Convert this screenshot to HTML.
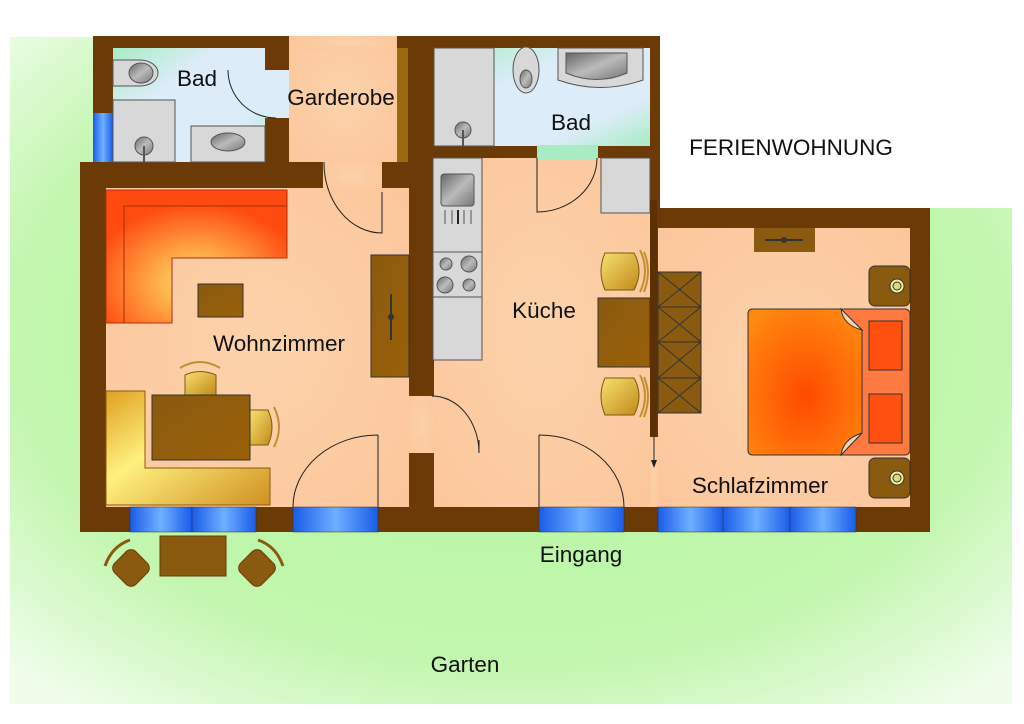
<!DOCTYPE html>
<html><head><meta charset="utf-8"><style>
html,body{margin:0;padding:0;background:#fff;width:1024px;height:724px;overflow:hidden}
svg{display:block}
text{font-family:"Liberation Sans",sans-serif;fill:#111}
</style></head><body>
<svg width="1024" height="724" viewBox="0 0 1024 724" xmlns="http://www.w3.org/2000/svg">
<defs>
<radialGradient id="grass" cx="0.5" cy="0.45" r="0.7"><stop offset="0" stop-color="#b4f7a0"/><stop offset="0.7" stop-color="#c2f6ae"/><stop offset="1" stop-color="#effdea"/></radialGradient>
<radialGradient id="floor" cx="0.5" cy="0.5" r="0.7"><stop offset="0" stop-color="#fcd3ab"/><stop offset="1" stop-color="#fcc69c"/></radialGradient>
<linearGradient id="bath" x1="0" y1="0" x2="1" y2="1"><stop offset="0" stop-color="#a8ecc4"/><stop offset="0.35" stop-color="#dcecf8"/><stop offset="0.75" stop-color="#dcecf8"/><stop offset="1" stop-color="#a8ecc4"/></linearGradient>
<radialGradient id="sofa" cx="0.5" cy="0.7" r="0.6"><stop offset="0" stop-color="#ffe86a"/><stop offset="1" stop-color="#ff4a10"/></radialGradient>
<linearGradient id="bench" x1="0" y1="0" x2="1" y2="1"><stop offset="0" stop-color="#e0a020"/><stop offset="0.4" stop-color="#fff080"/><stop offset="1" stop-color="#d09020"/></linearGradient>
<linearGradient id="wood" x1="0" y1="0" x2="1" y2="1"><stop offset="0" stop-color="#8a5a10"/><stop offset="1" stop-color="#9a6008"/></linearGradient>
<linearGradient id="chair" x1="0" y1="0" x2="1" y2="1"><stop offset="0" stop-color="#f8e070"/><stop offset="1" stop-color="#c08a18"/></linearGradient>
<linearGradient id="win" x1="0" y1="0" x2="1" y2="0"><stop offset="0" stop-color="#1a5ce8"/><stop offset="0.5" stop-color="#6eb0ff"/><stop offset="1" stop-color="#1a5ce8"/></linearGradient>
<radialGradient id="bed" cx="0.5" cy="0.6" r="0.7"><stop offset="0" stop-color="#ff4a00"/><stop offset="1" stop-color="#ff8a10"/></radialGradient>
<linearGradient id="metal" x1="0" y1="0" x2="1" y2="1"><stop offset="0" stop-color="#666"/><stop offset="0.5" stop-color="#bbb"/><stop offset="1" stop-color="#777"/></linearGradient>
</defs>
<rect x="10" y="37" width="1002" height="667" fill="url(#grass)"/>
<rect x="660" y="0" width="364" height="208" fill="#fff"/>
<rect x="1012" y="0" width="12" height="724" fill="#fff"/>
<path d="M93 36H304V48H393V36H660V208H930V532H80V162H93Z" fill="#6b3a06"/>
<rect x="113" y="48" width="152" height="114" fill="url(#bath)"/>
<rect x="265" y="70" width="24" height="48" fill="#dcecf8"/>
<rect x="289" y="36" width="108" height="126" fill="url(#floor)"/>
<rect x="304" y="36" width="89" height="14" fill="url(#floor)"/>
<rect x="323" y="160" width="59" height="32" fill="url(#floor)"/>
<rect x="397" y="48" width="11" height="114" fill="#9a6a10"/>
<rect x="106" y="188" width="303" height="319" fill="url(#floor)"/>
<rect x="409" y="396" width="25" height="57" fill="url(#floor)"/>
<rect x="434" y="48" width="216" height="98" fill="url(#bath)"/>
<rect x="434" y="158" width="216" height="349" fill="url(#floor)"/>
<rect x="537" y="145" width="61" height="14" fill="#a8ecc4"/>
<rect x="658" y="228" width="252" height="279" fill="url(#floor)"/>
<rect x="650" y="437" width="8" height="70" fill="url(#floor)"/>
<rect x="93" y="113" width="20" height="49" fill="url(#win)"/>
<g fill="url(#win)" stroke="#234" stroke-width="0.5">
<rect x="130" y="507" width="62" height="25"/><rect x="192" y="507" width="64" height="25"/>
<rect x="293" y="507" width="85" height="25"/><rect x="539" y="507" width="85" height="25"/>
<rect x="658" y="507" width="65" height="25"/><rect x="723" y="507" width="67" height="25"/><rect x="790" y="507" width="66" height="25"/>
</g>
<rect x="113" y="100" width="62" height="62" fill="#d8d8d8" stroke="#555"/>
<circle cx="144" cy="146" r="9" fill="url(#metal)" stroke="#555"/><line x1="144" y1="146" x2="144" y2="162" stroke="#555" stroke-width="2"/>
<rect x="191" y="126" width="74" height="36" fill="#d8d8d8" stroke="#555"/>
<ellipse cx="228" cy="142" rx="17" ry="9" fill="url(#metal)" stroke="#555"/>
<path d="M113 60H140A18 13 0 0 1 140 86H113Z" fill="#d8d8d8" stroke="#555"/>
<ellipse cx="141" cy="73" rx="12" ry="10" fill="url(#metal)" stroke="#555"/>
<path d="M228 70A48 48 0 0 0 276 118" fill="none" stroke="#222"/>
<path d="M324 162A58 70 0 0 0 382 233V192" fill="none" stroke="#222"/>
<rect x="434" y="48" width="60" height="98" fill="#d8d8d8" stroke="#555"/>
<circle cx="463" cy="130" r="8" fill="url(#metal)" stroke="#555"/><line x1="463" y1="130" x2="463" y2="146" stroke="#555" stroke-width="2"/>
<ellipse cx="526" cy="70" rx="13" ry="23" fill="#d8d8d8" stroke="#555"/>
<ellipse cx="526" cy="79" rx="6" ry="9" fill="url(#metal)" stroke="#555"/>
<path d="M558 48H643V80Q600 95 558 80Z" fill="#d8d8d8" stroke="#555"/>
<path d="M566 53H627V73Q597 86 566 73Z" fill="url(#metal)" stroke="#555"/>
<path d="M537 158V212A60 54 0 0 0 597 158" fill="none" stroke="#222"/>
<rect x="601" y="158" width="49" height="55" fill="#d8d8d8" stroke="#555"/>
<rect x="433" y="158" width="49" height="202" fill="#d8d8d8" stroke="#555"/>
<rect x="441" y="174" width="33" height="32" rx="3" fill="url(#metal)" stroke="#555"/>
<g stroke="#555"><line x1="445" y1="210" x2="445" y2="224"/><line x1="452" y1="210" x2="452" y2="224"/><line x1="458" y1="210" x2="458" y2="224" stroke="#222" stroke-width="2"/><line x1="464" y1="210" x2="464" y2="224"/><line x1="471" y1="210" x2="471" y2="224"/></g>
<rect x="433" y="252" width="49" height="45" fill="#d8d8d8" stroke="#555"/>
<g fill="url(#metal)" stroke="#555"><circle cx="446" cy="264" r="6"/><circle cx="469" cy="264" r="8"/><circle cx="445" cy="285" r="8"/><circle cx="469" cy="285" r="6"/></g>
<rect x="598" y="298" width="52" height="69" fill="url(#wood)" stroke="#333"/>
<g fill="url(#chair)" stroke="#7a5a10">
<path d="M605 253H634Q644 271 634 290H605Q597 271 605 253Z"/><path d="M605 378H634Q644 396 634 415H605Q597 396 605 378Z"/>
</g>
<g fill="none" stroke="#c09030" stroke-width="2"><path d="M640 250Q650 271 640 292"/><path d="M644 252Q652 271 644 292"/><path d="M640 375Q650 396 640 417"/><path d="M644 377Q652 396 644 417"/></g>
<rect x="650" y="200" width="7" height="237" fill="#5a3004"/>
<line x1="654" y1="437" x2="654" y2="466" stroke="#222"/><path d="M651 460L654 468L657 460Z" fill="#222"/>
<g fill="#8a5a10" stroke="#333">
<rect x="658" y="272" width="43" height="35"/><rect x="658" y="307" width="43" height="35"/><rect x="658" y="342" width="43" height="36"/><rect x="658" y="378" width="43" height="35"/>
</g>
<path d="M658 272L701 307M701 272L658 307M658 307L701 342M701 307L658 342M658 342L701 378M701 342L658 378M658 378L701 413M701 378L658 413" stroke="#333" fill="none"/>
<rect x="754" y="228" width="61" height="24" fill="#8a5a10"/>
<line x1="765" y1="240" x2="803" y2="240" stroke="#333" stroke-width="2"/><circle cx="784" cy="240" r="3" fill="#333"/>
<rect x="869" y="266" width="41" height="40" rx="6" fill="#8a5a10" stroke="#333"/>
<rect x="869" y="458" width="41" height="40" rx="6" fill="#8a5a10" stroke="#333"/>
<circle cx="897" cy="286" r="7" fill="#f8f0a0" stroke="#333"/><circle cx="897" cy="286" r="4" fill="#e0d870" stroke="#333"/>
<circle cx="897" cy="478" r="7" fill="#f8f0a0" stroke="#333"/><circle cx="897" cy="478" r="4" fill="#e0d870" stroke="#333"/>
<rect x="748" y="309" width="162" height="146" rx="5" fill="#ff7a40" stroke="#333"/>
<rect x="869" y="321" width="33" height="49" fill="#ff5010" stroke="#333"/>
<rect x="869" y="394" width="33" height="49" fill="#ff5010" stroke="#333"/>
<path d="M753 309H841L862 330V433L841 455H753Q748 455 748 450V314Q748 309 753 309Z" fill="url(#bed)" stroke="#333"/>
<path d="M841 309Q843 325 862 330Z" fill="#fcd3ab" stroke="#333"/>
<path d="M841 455Q843 439 862 433Z" fill="#fcd3ab" stroke="#333"/>
<path d="M106 190H287V258H172V323H106Z" fill="url(#sofa)" stroke="#b03010"/>
<path d="M124 323V206H287" fill="none" stroke="#a03010"/>
<rect x="198" y="284" width="45" height="33" fill="url(#wood)" stroke="#333"/>
<rect x="371" y="255" width="38" height="122" fill="url(#wood)" stroke="#333"/>
<line x1="391" y1="294" x2="391" y2="340" stroke="#333" stroke-width="2"/><circle cx="391" cy="317" r="3" fill="#333"/>
<path d="M106 391H145V468H270V505H106Z" fill="url(#bench)" stroke="#8a5a10"/>
<path d="M185 395V375Q200 368 216 375V395Z" fill="url(#chair)" stroke="#7a5a10"/>
<path d="M180 368Q200 356 220 368" fill="none" stroke="#c09030" stroke-width="2"/>
<path d="M250 410H268Q276 427 268 445H250Z" fill="url(#chair)" stroke="#7a5a10"/>
<path d="M274 407Q284 427 274 447" fill="none" stroke="#c09030" stroke-width="2"/>
<rect x="152" y="395" width="98" height="65" fill="url(#wood)" stroke="#333"/>
<path d="M378 435V507M378 435A85 72 0 0 0 293 507" fill="none" stroke="#222"/>
<path d="M539 435V507M539 435A85 72 0 0 1 624 507" fill="none" stroke="#222"/>
<path d="M432 396A47 57 0 0 1 479 453V440" fill="none" stroke="#222"/>
<rect x="160" y="536" width="66" height="40" fill="#8a5a10" stroke="#6b3a06"/>
<g fill="#8a5a10" stroke="#6b3a06">
<rect x="116" y="553" width="30" height="30" rx="7" transform="rotate(45 131 568)"/>
<rect x="242" y="553" width="30" height="30" rx="7" transform="rotate(45 257 568)"/>
</g>
<path d="M105 566Q112 546 130 540" fill="none" stroke="#8a5a10" stroke-width="3"/>
<path d="M283 566Q276 546 258 540" fill="none" stroke="#8a5a10" stroke-width="3"/>
<g font-size="22.5" text-anchor="middle">
<text x="197" y="86">Bad</text>
<text x="341" y="105">Garderobe</text>
<text x="571" y="130">Bad</text>
<text x="791" y="155">FERIENWOHNUNG</text>
<text x="279" y="351">Wohnzimmer</text>
<text x="544" y="318">Küche</text>
<text x="760" y="493">Schlafzimmer</text>
<text x="581" y="562">Eingang</text>
<text x="465" y="672">Garten</text>
</g>
</svg>
</body></html>
